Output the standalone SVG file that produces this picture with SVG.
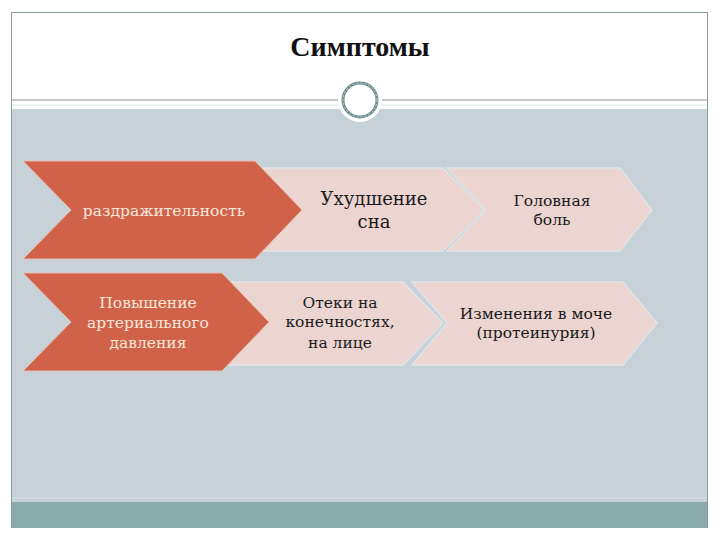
<svg xmlns="http://www.w3.org/2000/svg" width="720" height="540" viewBox="0 0 720 540">
<defs>
<style>
.o{fill:#d0624a;stroke:#e6c0b0;stroke-width:1}
.p{fill:#ecd4d1;stroke:#dfe3e6;stroke-width:1.5}
.ot{fill:#f7e8da;font-size:15.5px;font-family:"DejaVu Serif","Liberation Serif",serif;text-anchor:middle}
.pt{fill:#1a1a1a;font-size:15.5px;font-family:"DejaVu Serif","Liberation Serif",serif;text-anchor:middle}
.big{font-size:18px}
</style>
</defs>
<rect width="720" height="540" fill="#ffffff"/>
<g id="frame">
<rect x="11.5" y="12.5" width="696" height="515" fill="#ffffff" stroke="#8a9a9a" stroke-width="1"/>
<rect x="12" y="109" width="695" height="393" fill="#c6d1d8"/>
<rect x="12" y="502" width="695" height="26" fill="#8aabab"/>
<line x1="12" y1="498" x2="707" y2="498" stroke="#d6e4e6" stroke-width="1"/>
<line x1="12" y1="100" x2="707" y2="100" stroke="#8a9696" stroke-width="1.2"/>
<line x1="12" y1="105" x2="707" y2="105" stroke="#dde6e8" stroke-width="1"/>
<circle cx="360" cy="100" r="22" fill="#ffffff"/>
<circle cx="360" cy="100" r="17" fill="#ffffff" stroke="#6f8c8c" stroke-width="3"/>
<circle cx="360" cy="100" r="17" fill="none" stroke="#c9d6d6" stroke-width="1" stroke-dasharray="2 2"/>
</g>
<text x="360" y="56" font-family="Liberation Serif, serif" text-anchor="middle" font-size="28" font-weight="bold" fill="#111">Симптомы</text>
<g id="n6">
<polygon class="p" points="447,168 620,168 652,210 620,251 447,251 486,210"/>
<text class="pt" x="552" y="206">Головная</text>
<text class="pt" x="552" y="225">боль</text>
</g>
<g id="n5">
<polygon class="p" points="250,168 443,168 484,210 443,251 250,251 290,210"/>
<text class="pt big" x="374" y="205">Ухудшение</text>
<text class="pt big" x="374" y="228">сна</text>
</g>
<g id="n1">
<polygon class="o" points="23,161 255,161 302,210 255,259 23,259 71,210"/>
<text class="ot" x="164" y="216">раздражительность</text>
</g>
<g id="n7">
<polygon class="p" points="412,282 623,282 657,323 623,365 412,365 447,323"/>
<text class="pt" x="536" y="319">Изменения в моче</text>
<text class="pt" x="536" y="338">(протеинурия)</text>
</g>
<g id="n4">
<polygon class="p" points="222,282 403,282 443,323 403,365 222,365 262,323"/>
<text class="pt" x="340" y="308">Отеки на</text>
<text class="pt" x="340" y="327">конечностях,</text>
<text class="pt" x="340" y="348">на лице</text>
</g>
<g id="n2">
<polygon class="o" points="23,273 222,273 269,322 222,371 23,371 71,322"/>
<text class="ot" x="148" y="308">Повышение</text>
<text class="ot" x="148" y="328">артериального</text>
<text class="ot" x="148" y="348">давления</text>
</g>
<g id="connectors"/>
</svg>
